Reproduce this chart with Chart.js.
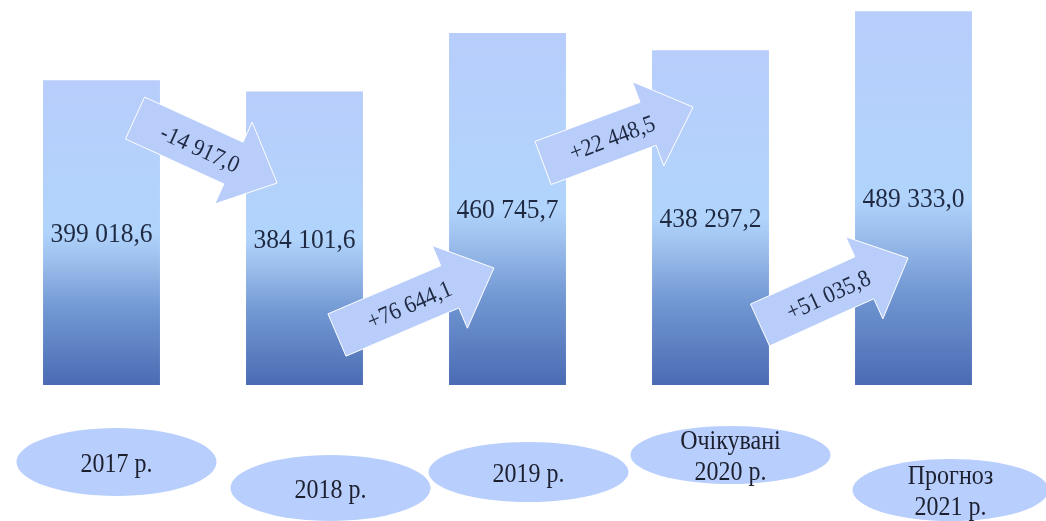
<!DOCTYPE html>
<html>
<head>
<meta charset="utf-8">
<script src="https://cdn.jsdelivr.net/npm/chart.js@4"></script>
<style>
    body { margin: 0; background: #fff; }
    #wrap { width: 1046px; height: 521px; position: relative; }
</style>
</head>
<body>
<div id="wrap"><canvas id="chart"></canvas></div>
<script>
var categories = [['2017 р.'], ['2018 р.'], ['2019 р.'], ['Очікувані', '2020 р.'], ['Прогноз', '2021 р.']];
var values = [399018.6, 384101.6, 460745.7, 438297.2, 489333.0];
var deltaLabels = ['-14 917,0', '+76 644,1', '+22 448,5', '+51 035,8'];

// arrows: tail/tip as [category offset, value]
var arrows = [
    { from: [0.165, 349500], to: [0.865, 264400] },
    { from: [1.16, 65450], to: [1.933, 153200] },
    { from: [2.175, 290600], to: [2.914, 363900] },
    { from: [3.244, 78500], to: [3.973, 166250] }
];
// category ellipses: x shift, center y, radii
var ellipses = [
    { dx: 15, y: 462, rx: 100, ry: 34 },
    { dx: 26, y: 488, rx: 100, ry: 33 },
    { dx: 21, y: 472, rx: 100, ry: 30 },
    { dx: 20, y: 455, rx: 100, ry: 29 },
    { dx: 37, y: 490, rx: 98, ry: 31 }
];

var SERIF = '"Liberation Serif", "Times New Roman", serif';

function fmt(v) {
    var s = v.toFixed(1).split('.');
    return s[0].replace(/\B(?=(\d{3})+(?!\d))/g, ' ') + ',' + s[1];
}

// slightly tall text, like the original Times rendering
function tallText(ctx, text, x, y) {
    ctx.save();
    ctx.translate(x, y);
    ctx.scale(1, 1.1);
    ctx.fillText(text, 0, 0);
    ctx.restore();
}

function barGradient(c) {
    var chart = c.chart;
    if (!chart.chartArea) return '#b8cefc';
    var y = chart.scales.y;
    var top = y.getPixelForValue(values[c.dataIndex]);
    var bot = y.getPixelForValue(0);
    var g = chart.ctx.createLinearGradient(0, top, 0, bot);
    g.addColorStop(0, '#b8cdfb');
    g.addColorStop(0.5, '#b0d4fc');
    g.addColorStop(0.58, '#a0c2ef');
    g.addColorStop(0.75, '#7298d3');
    g.addColorStop(1, '#4a6bb3');
    return g;
}

var decor = {
    id: 'decor',
    afterDatasetsDraw: function (chart) {
        var ctx = chart.ctx;
        var xs = chart.scales.x, ys = chart.scales.y;
        var step = xs.getPixelForValue(1) - xs.getPixelForValue(0);
        var meta = chart.getDatasetMeta(0);

        // value labels
        ctx.save();
        ctx.font = '25.5px ' + SERIF;
        ctx.fillStyle = '#1f2942';
        ctx.textAlign = 'center';
        ctx.textBaseline = 'middle';
        meta.data.forEach(function (bar, i) {
            tallText(ctx, fmt(values[i]), bar.x, (bar.y + bar.base) / 2 + 2);
        });
        ctx.restore();

        // arrows
        arrows.forEach(function (a, i) {
            var tx = xs.getPixelForValue(0) + a.from[0] * step, ty = ys.getPixelForValue(a.from[1]);
            var px = xs.getPixelForValue(0) + a.to[0] * step, py = ys.getPixelForValue(a.to[1]);
            var dx = px - tx, dy = py - ty, len = Math.sqrt(dx * dx + dy * dy);
            var ux = dx / len, uy = dy / len, nx = -uy, ny = ux;
            var sw = 23, hw = 45, hl = 48;
            var bx = px - ux * hl, by = py - uy * hl;
            ctx.save();
            ctx.beginPath();
            ctx.moveTo(tx + nx * sw, ty + ny * sw);
            ctx.lineTo(bx + nx * sw, by + ny * sw);
            ctx.lineTo(bx + nx * hw, by + ny * hw);
            ctx.lineTo(px, py);
            ctx.lineTo(bx - nx * hw, by - ny * hw);
            ctx.lineTo(bx - nx * sw, by - ny * sw);
            ctx.lineTo(tx - nx * sw, ty - ny * sw);
            ctx.closePath();
            ctx.fillStyle = '#b9cdfb';
            ctx.fill();
            ctx.strokeStyle = '#ffffff';
            ctx.lineWidth = 1;
            ctx.stroke();
            ctx.translate(tx + ux * len * 0.46 + nx * 2, ty + uy * len * 0.46 + ny * 2);
            ctx.rotate(Math.atan2(dy, dx));
            ctx.font = '22px ' + SERIF;
            ctx.fillStyle = '#1f2942';
            ctx.textAlign = 'center';
            ctx.textBaseline = 'middle';
            tallText(ctx, deltaLabels[i], 0, 0);
            ctx.restore();
        });

        // category ellipses
        ctx.save();
        ctx.font = '24px ' + SERIF;
        ctx.textAlign = 'center';
        ctx.textBaseline = 'middle';
        ellipses.forEach(function (e, i) {
            var cx = xs.getPixelForValue(i) + e.dx;
            ctx.beginPath();
            ctx.ellipse(cx, e.y, e.rx, e.ry, 0, 0, Math.PI * 2);
            ctx.fillStyle = '#b8cefc';
            ctx.fill();
            ctx.fillStyle = '#1c1f2e';
            var lines = categories[i];
            lines.forEach(function (t, k) {
                tallText(ctx, t, cx, e.y + 3 + (k - (lines.length - 1) / 2) * 31);
            });
        });
        ctx.restore();
    }
};

var ctx = document.getElementById('chart').getContext('2d');
var chart = new Chart(ctx, {
    type: 'bar',
    data: {
        labels: categories,
        datasets: [{
            data: values,
            backgroundColor: barGradient,
            borderWidth: 0,
            barPercentage: 1,
            categoryPercentage: 0.576
        }]
    },
    options: {
        responsive: true,
        maintainAspectRatio: false,
        animation: false,
        layout: { padding: { left: 0, right: 31, top: 0, bottom: 136 } },
        plugins: { legend: { display: false }, tooltip: { enabled: false } },
        scales: {
            x: { display: false },
            y: { display: false, min: 0, max: 504000 }
        }
    },
    plugins: [decor]
});
</script>
</body>
</html>
